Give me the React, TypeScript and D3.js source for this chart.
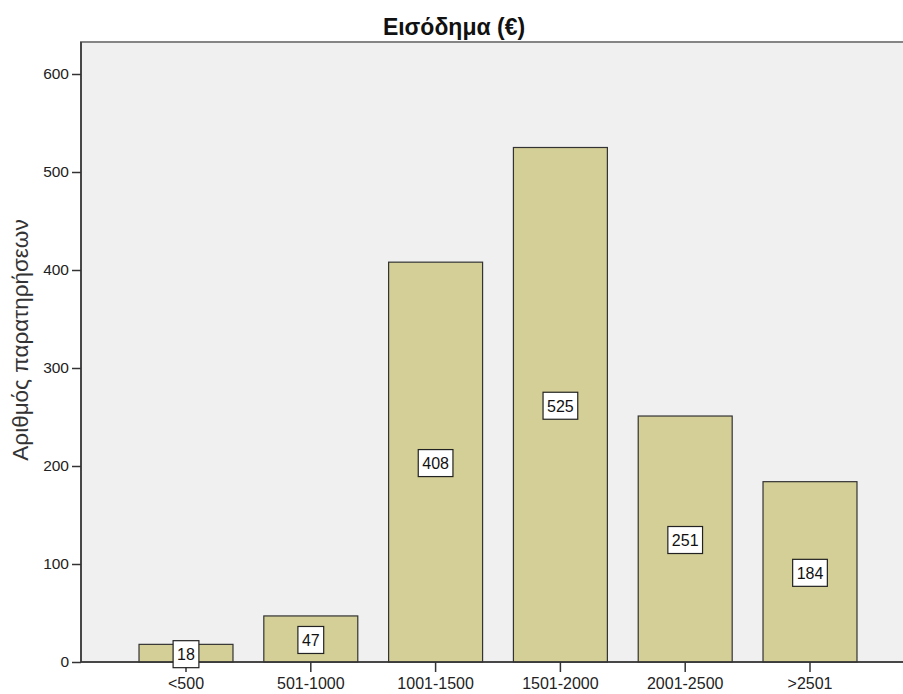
import React, { useEffect, useRef } from 'react';
import * as d3 from 'd3';

const categories = ['<500', '501-1000', '1001-1500', '1501-2000', '2001-2500', '>2501'];
const counts = [18, 47, 408, 525, 251, 184];
const yTicks = [0, 100, 200, 300, 400, 500, 600];

const FONT = 'Arial, "Liberation Sans", sans-serif';

const App: React.FC = () => {
  const svgRef = useRef<SVGSVGElement>(null);

  useEffect(() => {
    if (!svgRef.current) return;
    const svg = d3.select(svgRef.current);
    svg.selectAll('*').remove();

    const width = 903;
    const height = 694;
    const plot = { left: 81, top: 42, right: 910, bottom: 662 };

    // Scales
    const x = d3.scaleBand<string>()
      .domain(categories)
      .range([123.6, 872.4])
      .paddingInner(0.247)
      .paddingOuter(0.1235);

    const y = d3.scaleLinear()
      .domain([0, 600])
      .range([plot.bottom, 74]);

    svg.attr('width', width).attr('height', height);

    // Plot background + frame
    svg.append('rect')
      .attr('x', plot.left)
      .attr('y', plot.top)
      .attr('width', plot.right - plot.left)
      .attr('height', plot.bottom - plot.top)
      .attr('fill', '#f0f0f0')
      .attr('stroke', '#858585')
      .attr('stroke-width', 2);

    // Bars
    svg.append('g')
      .selectAll('rect')
      .data(counts)
      .enter()
      .append('rect')
      .attr('x', (_, i) => x(categories[i]) as number)
      .attr('y', d => y(d))
      .attr('width', x.bandwidth())
      .attr('height', d => plot.bottom - y(d))
      .attr('fill', '#d4cf96')
      .attr('stroke', '#333')
      .attr('stroke-width', 1.2);

    // Axes
    const yAxis = d3.axisLeft(y).tickValues(yTicks).tickSize(9).tickSizeOuter(0).tickPadding(3);
    const yg = svg.append('g')
      .attr('transform', `translate(${plot.left},0)`)
      .call(yAxis);
    yg.select('.domain').remove();
    yg.selectAll('.tick line').attr('stroke', '#333').attr('stroke-width', 1.5);
    yg.selectAll('text')
      .attr('fill', '#222')
      .style('font-family', FONT)
      .style('font-size', '15.5px');

    const xAxis = d3.axisBottom(x).tickSize(10).tickSizeOuter(0).tickPadding(6);
    const xg = svg.append('g')
      .attr('transform', `translate(0,${plot.bottom})`)
      .call(xAxis);
    xg.select('.domain').remove();
    xg.selectAll('.tick line').attr('stroke', '#333').attr('stroke-width', 1.5);
    xg.selectAll('text')
      .attr('fill', '#222')
      .style('font-family', FONT)
      .style('font-size', '16px');

    // Axis lines
    svg.append('line')
      .attr('x1', plot.left)
      .attr('x2', plot.right)
      .attr('y1', plot.bottom)
      .attr('y2', plot.bottom)
      .attr('stroke', '#333')
      .attr('stroke-width', 1.5);
    svg.append('line')
      .attr('x1', plot.left)
      .attr('x2', plot.left)
      .attr('y1', plot.top)
      .attr('y2', plot.bottom)
      .attr('stroke', '#333')
      .attr('stroke-width', 1.5);

    // Value labels
    const labels = svg.append('g')
      .selectAll('g')
      .data(counts)
      .enter()
      .append('g')
      .attr('transform', (d, i) =>
        `translate(${(x(categories[i]) as number) + x.bandwidth() / 2},${(y(d) + plot.bottom) / 2 + 1})`);

    const boxW = (d: number) => String(d).length * 8.9 + 8;
    labels.append('rect')
      .attr('x', d => -boxW(d) / 2)
      .attr('y', -13.5)
      .attr('width', d => boxW(d))
      .attr('height', 27)
      .attr('fill', '#fff')
      .attr('stroke', '#222')
      .attr('stroke-width', 1.2);

    labels.append('text')
      .attr('text-anchor', 'middle')
      .attr('dy', '0.36em')
      .attr('fill', '#111')
      .style('font-family', FONT)
      .style('font-size', '16px')
      .text(d => d);

    // Title
    svg.append('text')
      .attr('x', 454)
      .attr('y', 35)
      .attr('text-anchor', 'middle')
      .attr('fill', '#111')
      .style('font-family', FONT)
      .style('font-size', '23px')
      .style('font-weight', 'bold')
      .text('Εισόδημα (€)');

    // Y label
    svg.append('text')
      .attr('transform', `translate(28,340) rotate(-90)`)
      .attr('text-anchor', 'middle')
      .attr('fill', '#333')
      .style('font-family', FONT)
      .style('font-size', '22.5px')
      .text('Αριθμός παρατηρήσεων');
  }, []);

  return (
    <div style={{ position: 'absolute', left: 0, top: 0, background: '#fff' }}>
      <svg ref={svgRef} style={{ display: 'block' }}></svg>
    </div>
  );
};

export default App;
